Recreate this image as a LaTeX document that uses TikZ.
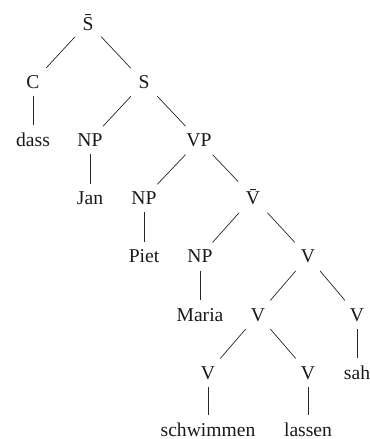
\documentclass[tikz,border=0pt]{standalone}
\usepackage{fontspec}
\setmainfont{Liberation Serif}
\begin{document}
\begin{tikzpicture}[x=1bp,y=-1bp,
  lbl/.style={font=\fontsize{19.6bp}{22bp}\selectfont, inner sep=7.5bp, anchor=base, text=black!90},
  edge/.style={line width=0.7bp, draw=black!85}]
\useasboundingbox (0,0) rectangle (369,439);
% rows (baselines)
\def\ra{30.5}\def\rb{88.6}\def\rc{146.7}\def\rd{204.8}
\def\re{262.9}\def\rf{321.0}\def\rg{379.0}\def\rh{436.6}
\node[lbl] (sbar) at (88,\ra) {\=S};
\node[lbl] (c)    at (33,\rb) {C};
\node[lbl] (s)    at (144,\rb) {S};
\node[lbl] (dass) at (33,\rc) {dass};
\node[lbl] (np1)  at (90,\rc) {NP};
\node[lbl] (vp)   at (199,\rc) {VP};
\node[lbl] (jan)  at (90,\rd) {Jan};
\node[lbl] (np2)  at (144,\rd) {NP};
\node[lbl] (vbar) at (253,\rd) {\=V};
\node[lbl] (piet) at (144,\re) {Piet};
\node[lbl] (np3)  at (200,\re) {NP};
\node[lbl] (v1)   at (308,\re) {V};
\node[lbl] (maria) at (200,\rf) {Maria};
\node[lbl] (v2)   at (258,\rf) {V};
\node[lbl] (v3)   at (357,\rf) {V};
\node[lbl] (v4)   at (208,\rg) {V};
\node[lbl] (v5)   at (308,\rg) {V};
\node[lbl] (sah)  at (357,\rg) {sah};
\node[lbl] (schw) at (208,\rh) {schwimmen};
\node[lbl] (lass) at (308,\rh) {lassen};
\draw[edge] (sbar) -- (c);
\draw[edge] (sbar) -- (s);
\draw[edge] (c) -- (dass);
\draw[edge] (s) -- (np1);
\draw[edge] (s) -- (vp);
\draw[edge] (np1) -- (jan);
\draw[edge] (vp) -- (np2);
\draw[edge] (vp) -- (vbar);
\draw[edge] (np2) -- (piet);
\draw[edge] (vbar) -- (np3);
\draw[edge] (vbar) -- (v1);
\draw[edge] (np3) -- (maria);
\draw[edge] (v1) -- (v2);
\draw[edge] (v1) -- (v3);
\draw[edge] (v2) -- (v4);
\draw[edge] (v2) -- (v5);
\draw[edge] (v3) -- (sah);
\draw[edge] (v4) -- (schw);
\draw[edge] (v5) -- (lass);
\end{tikzpicture}
\end{document}
